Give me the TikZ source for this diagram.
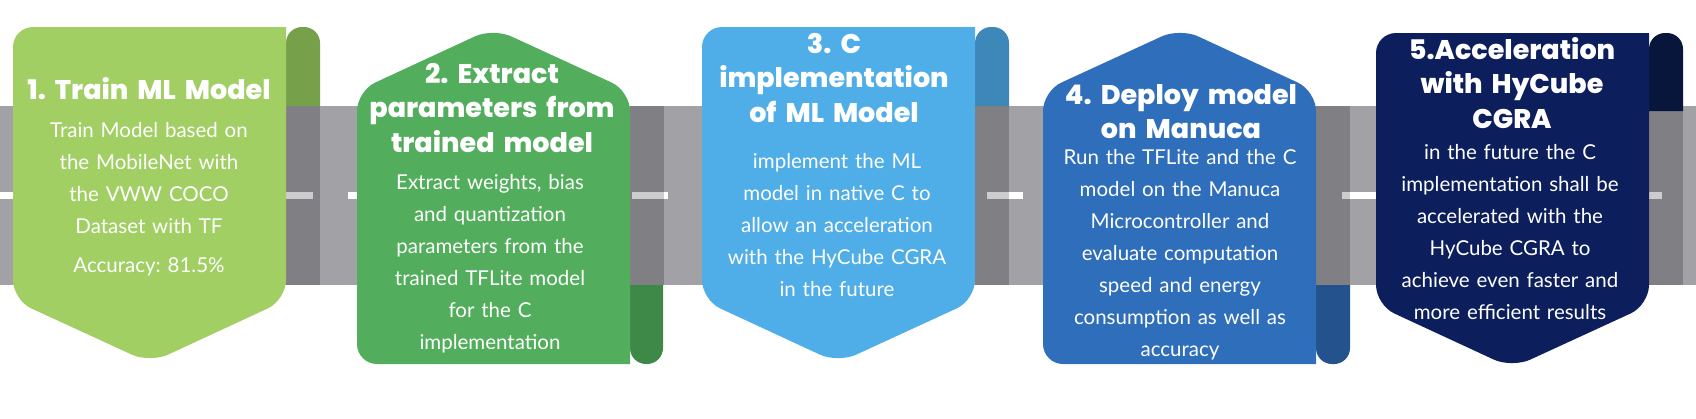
\documentclass[tikz,border=0pt]{standalone}
\usepackage{fontspec}
\setmainfont{Lato}
\newfontfamily\poppins{Poppins}[BoldFont={* ExtraBold}]
\frenchspacing
\definecolor{roadgray}{HTML}{A1A1A6}
\definecolor{trainfill}{HTML}{A1CF64}
\definecolor{trainfold}{HTML}{77A04A}
\definecolor{extractfill}{HTML}{52AE5D}
\definecolor{extractfold}{HTML}{3F8948}
\definecolor{implfill}{HTML}{4FADE7}
\definecolor{implfold}{HTML}{3D87B9}
\definecolor{deployfill}{HTML}{2E6EBB}
\definecolor{deployfold}{HTML}{23528C}
\definecolor{accelfill}{HTML}{0C1F5C}
\definecolor{accelfold}{HTML}{07163A}

\begin{document}
\begin{tikzpicture}[x=1pt, y=-1pt,
  stepcard/.style={rounded corners=20pt},
  steptab/.style={rounded corners=16pt},
  steptitle/.style={text=white, anchor=base, inner sep=0pt, text width=300pt, align=center, font=\poppins\bfseries\fontsize{27}{34.5}\selectfont},
  steptext/.style={text=white, anchor=base, inner sep=0pt, text width=300pt, align=center, font=\fontsize{20.5}{32}\selectfont}]
\useasboundingbox (0,0) rectangle (1696,418);

\fill[roadgray] (0,106) rectangle (1696,285);
\draw[white, line width=7pt, dash pattern=on 36pt off 35pt, dash phase=7pt] (0,195.5) -- (1696,195.5);
\foreach \sx/\sy in {286/106, 630/106, 975/106, 1316/106, 1649/111}
  \fill[black, opacity=0.2] (\sx,\sy) rectangle (\sx+34,285);

\fill[trainfold, steptab] (286,106) -- (286,27) -- (320,27) -- (320,106);
\fill[trainfill, stepcard] (286,27) -- (286,300) -- (150,363) -- (13,300) -- (13,27) -- (286,27);
\node (traintitle) [steptitle] at (149,99) {1. Train ML Model};
\node (traintext) [steptext] at (149,137) {Train Model based on\\the MobileNet with\\the VWW COCO\\Dataset with TF};
\node (trainacc) [steptext] at (149,272) {Accuracy: 81.5\%};

\fill[extractfold, steptab] (630,285) -- (630,364) -- (663,364) -- (663,285);
\fill[extractfill, stepcard] (630,364) -- (357,364) -- (357,91) -- (493,28) -- (630,91) -- (630,364);
\node (extracttitle) [steptitle] at (492,83) {2. Extract\\parameters from\\trained model};
\node (extracttext) [steptext] at (490,189) {Extract weights, bias\\and quantization\\parameters from the\\trained TFLite model\\for the C\\implementation};

\fill[implfold, steptab] (975,106) -- (975,27) -- (1009,27) -- (1009,106);
\fill[implfill, stepcard] (975,27) -- (975,300) -- (838,363) -- (702,300) -- (702,27) -- (975,27);
\node (impltitle) [steptitle] at (834,53) {3. C\\implementation\\of ML Model};
\node (impltext) [steptext] at (837,168) {implement the ML\\model in native C to\\allow an acceleration\\with the HyCube CGRA\\in the future};

\fill[deployfold, steptab] (1316,285) -- (1316,364) -- (1350,364) -- (1350,285);
\fill[deployfill, stepcard] (1316,364) -- (1043,364) -- (1043,91) -- (1180,28) -- (1316,91) -- (1316,364);
\node (deploytitle) [steptitle] at (1181,104) {4. Deploy model\\on Manuca};
\node (deploytext) [steptext] at (1180,164) {Run the TFLite and the C\\model on the Manuca\\Microcontroller and\\evaluate computation\\speed and energy\\consumption as well as\\accuracy};

\fill[accelfold, steptab] (1649,111) -- (1649,33) -- (1683,33) -- (1683,111);
\fill[accelfill, stepcard] (1649,33) -- (1649,305) -- (1512,368) -- (1376,305) -- (1376,33) -- (1649,33);
\node (acceltitle) [steptitle] at (1512,59) {5.Acceleration\\with HyCube\\CGRA};
\node (acceltext) [steptext] at (1510,159) {in the future the C\\implementation shall be\\accelerated with the\\HyCube CGRA to\\achieve even faster and\\more efficient results};
\end{tikzpicture}
\end{document}
